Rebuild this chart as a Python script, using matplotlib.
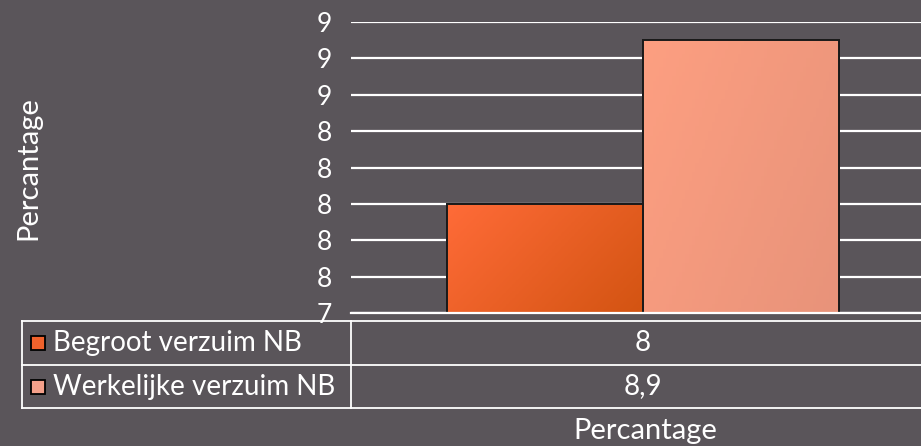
import numpy as np
import matplotlib.pyplot as plt
from matplotlib.lines import Line2D
from matplotlib.patches import Rectangle
from matplotlib.colors import LinearSegmentedColormap

series = ['Begroot verzuim NB', 'Werkelijke verzuim NB']
values = [8.0, 8.9]
yticks = [7.4, 7.6, 7.8, 8.0, 8.2, 8.4, 8.6, 8.8, 9.0]
axis_title = 'Percantage'

bg = '#5a555a'
grad_colors = [('#ff6b38', '#d35412'), ('#fd9f81', '#e8937a')]
key_colors = ['#f0622c', '#f4a08a']

plt.rcParams['font.family'] = ['Lato', 'DejaVu Sans']
W, H = 921, 446
fig = plt.figure(figsize=(W / 100, H / 100), dpi=100, facecolor=bg)

def fx(px):
    return px / W

def fy(py):
    return 1 - py / H

# plot area (extends slightly past the right edge, as in the original)
ax = fig.add_axes([fx(351), fy(313), fx(935 - 351), (313 - 22) / H])
ax.set_facecolor(bg)
ax.set_xlim(0, 1)
ax.set_ylim(yticks[0], yticks[-1])
ax.set_yticks(yticks)
ax.set_yticklabels([f"{v:.0f}" for v in yticks])
ax.tick_params(axis='y', length=0, labelsize=19, labelcolor='white', pad=14)
ax.set_xticks([])
for s in ax.spines.values():
    s.set_visible(False)
ax.grid(axis='y', color='white', lw=1.6)
ax.set_axisbelow(True)

bar_w = (643 - 447) / 584
left0 = 0.5 - bar_w
for i, (v, (c1, c2)) in enumerate(zip(values, grad_colors)):
    x0 = left0 + i * bar_w
    rect = Rectangle((x0, yticks[0]), bar_w, v - yticks[0], facecolor=c1,
                     edgecolor='#1a1a1a', lw=1.4, zorder=3)
    ax.add_patch(rect)
    cmap = LinearSegmentedColormap.from_list(f'g{i}', [c1, c2])
    xx, yy = np.meshgrid(np.linspace(0, 1, 60), np.linspace(0, 1, 60))
    grad = 0.65 * xx + 0.35 * yy
    im = ax.imshow(grad, cmap=cmap, extent=(x0, x0 + bar_w, yticks[0], v),
                   origin='upper', aspect='auto', zorder=3.5)
    im.set_clip_path(rect)
    edge = Rectangle((x0, yticks[0]), bar_w, v - yticks[0], facecolor='none',
                     edgecolor='#1a1a1a', lw=1.4, zorder=4)
    ax.add_patch(edge)
ax.set_xlim(0, 1)

# baseline
fig.add_artist(Line2D([fx(351), 1], [fy(313), fy(313)], color='white', lw=1.6))

# data table
top, mid, bot = 321, 365, 408
lc = 'white'
lw = 1.3
for yy in (top, mid, bot):
    fig.add_artist(Line2D([fx(22), 1], [fy(yy), fy(yy)], color=lc, lw=lw))
for xx in (22, 351):
    fig.add_artist(Line2D([fx(xx), fx(xx)], [fy(top), fy(bot)], color=lc, lw=lw))

row_centers = [(top + mid) / 2, (mid + bot) / 2]
for name, v, kc, yc in zip(series, values, key_colors, row_centers):
    fig.add_artist(Rectangle((fx(31), fy(yc + 7)), fx(14), 14 / H, facecolor=kc,
                             edgecolor='black', lw=1.3, transform=fig.transFigure))
    fig.text(fx(53), fy(yc), name, color='white', fontsize=20, va='center', ha='left')
    label = f"{v:g}".replace('.', ',')
    fig.text(fx(643), fy(yc), label, color='white', fontsize=20, va='center', ha='center')

fig.text(fx(645), fy(431), axis_title, color='white', fontsize=21, ha='center', va='center')
fig.text(fx(28), fy(168), axis_title, color='white', fontsize=21, ha='center', va='center',
         rotation=90)

fig.savefig('out.png', dpi=100, facecolor=bg)
